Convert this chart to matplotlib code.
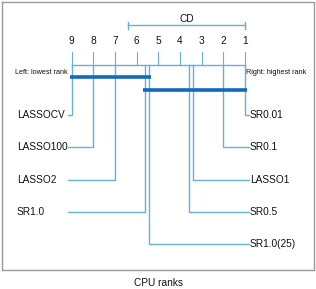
import matplotlib
matplotlib.use("Agg")
import matplotlib.pyplot as plt
from matplotlib import font_manager

names = [f.name for f in font_manager.fontManager.ttflist]
fam = "Liberation Sans Narrow" if "Liberation Sans Narrow" in names else "Liberation Sans"
plt.rcParams["font.family"] = [fam, "DejaVu Sans"]

# data
left_models = ["LASSOCV", "LASSO100", "LASSO2", "SR1.0"]
left_ranks = [9.0, 8.0, 7.0, 5.63]
right_models = ["SR0.01", "SR0.1", "LASSO1", "SR0.5", "SR1.0(25)"]
right_ranks = [1.0, 2.0, 3.41, 3.60, 5.42]
tick_ranks = [9, 8, 7, 6, 5, 4, 3, 2, 1]
cd_value = 5.39
cliques = [(9.0, 5.42), (5.63, 1.0)]
caption = "CPU ranks"

light = "#6aaee0"
dark = "#1269b8"
fs = 7.3

fig = plt.figure(figsize=(3.16, 2.89), dpi=100)
ax = fig.add_axes([0, 0, 1, 1])
px = 21.66
ax.set_xlim(1 + 245 / px, 1 - 71 / px)
ax.set_ylim(289, 0)
ax.axis("off")

def rx(p):
    return 1 + (245 - p) / px

# frame
ax.plot([rx(1.5), rx(313.5), rx(313.5), rx(1.5), rx(1.5)], [1.5, 1.5, 269.5, 269.5, 1.5],
        color="#999999", lw=1.0)

axis_y = 64.5
ax.plot([max(tick_ranks), min(tick_ranks)], [axis_y, axis_y], color=light, lw=1.0)
for t in tick_ranks:
    ax.plot([t, t], [axis_y, axis_y - 13], color=light, lw=0.8)
    ax.text(t, 41, str(t), ha="center", va="center", fontsize=fs, color="#111111")

# CD bar
ax.plot([1, 1 + cd_value], [25, 25], color=light, lw=1.0)
for e in (1, 1 + cd_value):
    ax.plot([e, e], [21.5, 28.5], color=light, lw=1.0)
ax.text(1 + cd_value / 2, 19.5, "CD", ha="center", va="center", fontsize=fs, color="#111111")

ax.text(rx(15), 72, "Left: lowest rank", ha="left", va="center", fontsize=5.2, color="#111111")
ax.text(rx(246), 72, "Right: highest rank", ha="left", va="center", fontsize=5.2, color="#111111")

left_y = [115, 147, 180, 212]
for name, r, y in zip(left_models, left_ranks, left_y):
    ax.plot([r, r, rx(67.5)], [axis_y, y, y], color=light, lw=1.0)
    ax.text(rx(17), y, name, ha="left", va="center", fontsize=fs, color="#111111")

right_y = [115, 147, 180, 212, 244]
for name, r, y in zip(right_models, right_ranks, right_y):
    ax.plot([r, r, rx(248.5)], [axis_y, y, y], color=light, lw=1.0)
    ax.text(rx(250), y, name, ha="left", va="center", fontsize=fs, color="#111111")

clique_y = [77.3, 90]
for (a, b), y in zip(cliques, clique_y):
    ax.plot([a + 0.1, b - 0.1], [y, y], color=dark, lw=2.6, solid_capstyle="butt")

ax.text(rx(158), 283, caption, ha="center", va="center", fontsize=fs, color="#111111")

fig.savefig("out.png", dpi=100)
